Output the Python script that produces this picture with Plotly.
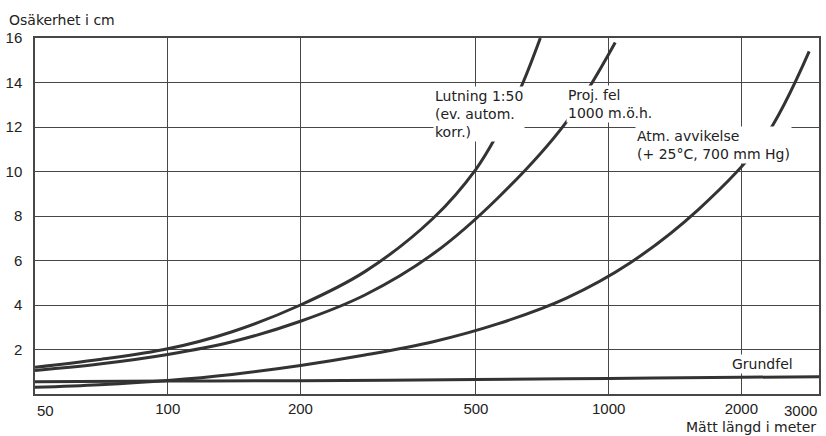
import math
import plotly.graph_objects as go

# Measured length (m) and uncertainty (cm) for each error source
lutning_L = [50, 70, 100, 140, 200, 280, 400, 500, 560, 630, 700]
lutning_v = [1.2, 1.55, 2.03, 2.8, 4.0, 5.5, 7.9, 10.1, 11.7, 13.7, 16.0]

proj_L = [50, 70, 100, 140, 200, 280, 400, 560, 800, 1035]
proj_v = [1.06, 1.35, 1.78, 2.35, 3.27, 4.45, 6.3, 8.8, 12.2, 15.8]

atm_L = [50, 70, 100, 140, 200, 280, 400, 560, 800, 1120, 1600, 2240, 2850]
atm_v = [0.3, 0.42, 0.61, 0.88, 1.28, 1.75, 2.35, 3.15, 4.3, 5.9, 8.3, 11.4, 15.4]

grund_L = [50, 100, 200, 500, 1000, 2000, 3000]
grund_v = [0.55, 0.58, 0.6, 0.65, 0.7, 0.75, 0.78]

x_ticks = [100, 200, 500, 1000, 2000]
y_ticks = [2, 4, 6, 8, 10, 12, 14, 16]

NUM_FONT = "Liberation Sans, Arial, sans-serif"
TXT_FONT = "DejaVu Sans, sans-serif"
INK = "#222222"
CURVE = "#333333"
GRID = "#474747"

fig = go.Figure()
for xs, ys in [(lutning_L, lutning_v), (proj_L, proj_v), (atm_L, atm_v), (grund_L, grund_v)]:
    fig.add_trace(go.Scatter(
        x=xs, y=ys, mode="lines",
        line=dict(color=CURVE, width=3, shape="spline", smoothing=1.0),
        hoverinfo="skip", showlegend=False,
    ))

fig.update_xaxes(
    type="log", range=[math.log10(50), math.log10(3000)],
    tickvals=x_ticks, ticktext=[str(v) for v in x_ticks],
    showgrid=True, gridcolor=GRID, gridwidth=1,
    showline=True, linecolor=GRID, linewidth=1.5, mirror=True,
    ticks="", tickfont=dict(family=NUM_FONT, size=15, color=INK),
    zeroline=False,
)
fig.update_yaxes(
    range=[0, 16], tickvals=y_ticks, ticktext=[str(v) for v in y_ticks],
    showgrid=True, gridcolor=GRID, gridwidth=1,
    showline=True, linecolor=GRID, linewidth=1.5, mirror=True,
    ticks="", ticklabelstandoff=8, tickfont=dict(family=NUM_FONT, size=15, color=INK),
    zeroline=False,
)

annotations = []

def label(x, y, text):
    # White box behind the text blanks out the grid and curve beneath it
    annotations.append(dict(
        x=math.log10(x), y=y, xref="x", yref="y", text=text, showarrow=False,
        xanchor="left", yanchor="middle", align="left",
        bgcolor="white", borderpad=1,
        font=dict(family=TXT_FONT, size=14, color=INK),
    ))

label(400, 12.58, "Lutning 1:50<br>(ev. autom.<br>korr.)")
label(800, 13.03, "Proj. fel<br>1000 m.ö.h.")
label(1150, 11.19, "Atm. avvikelse<br>(+ 25°C, 700 mm Hg)")
label(1880, 1.37, "Grundfel")

# End tick labels sit inside the frame edges
annotations.append(dict(x=0, y=-0.045, xref="paper", yref="paper", text="50",
                        showarrow=False, xanchor="left", yanchor="middle",
                        font=dict(family=NUM_FONT, size=15, color=INK)))
annotations.append(dict(x=1, y=-0.045, xref="paper", yref="paper", text="3000",
                        showarrow=False, xanchor="right", yanchor="middle",
                        font=dict(family=NUM_FONT, size=15, color=INK)))

# Axis titles
annotations.append(dict(x=-0.0356, y=1.051, xref="paper", yref="paper",
                        text="Osäkerhet i cm", showarrow=False,
                        xanchor="left", yanchor="middle",
                        font=dict(family=TXT_FONT, size=14, color=INK)))
annotations.append(dict(x=0.999, y=-0.094, xref="paper", yref="paper",
                        text="Mätt längd i meter", showarrow=False,
                        xanchor="right", yanchor="middle",
                        font=dict(family=TXT_FONT, size=14, color=INK)))

fig.update_layout(
    width=826, height=436,
    margin=dict(l=35, r=5, t=38, b=42),
    paper_bgcolor="white", plot_bgcolor="white",
    annotations=annotations,
)

fig.write_html("out.html")
